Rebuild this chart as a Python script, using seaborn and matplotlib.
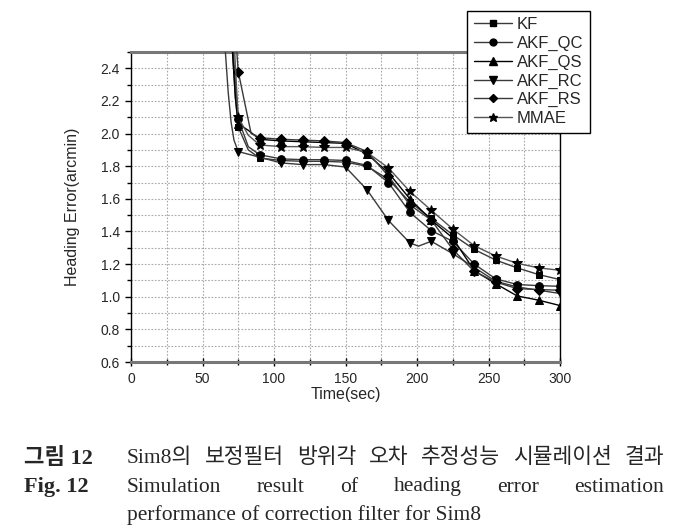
import numpy as np
import pandas as pd
import matplotlib
matplotlib.use("Agg")
import matplotlib.pyplot as plt
import seaborn as sns
from matplotlib.lines import Line2D
from matplotlib.ticker import MultipleLocator, FormatStrFormatter

# ---------------- data ----------------
TIME = [75, 90, 105, 120, 135, 150, 165, 180, 195, 210, 225, 240, 255, 270, 285, 300]

KF      = [2.04, 1.85, 1.835, 1.83, 1.83, 1.825, 1.80, 1.72, 1.58, 1.48, 1.38, 1.29, 1.225, 1.177, 1.136, 1.105]
AKF_QC  = [2.09, 1.87, 1.845, 1.84, 1.84, 1.835, 1.805, 1.70, 1.517, 1.405, 1.34, 1.20, 1.11, 1.075, 1.068, 1.064]
AKF_QS  = [2.06, 1.965, 1.955, 1.95, 1.945, 1.94, 1.875, 1.76, 1.60, 1.47, 1.36, 1.16, 1.08, 1.005, 0.979, 0.946]
AKF_RC  = [1.89, 1.855, 1.82, 1.81, 1.81, 1.795, 1.656, 1.468, 1.33, 1.34, 1.264, 1.18, 1.095, 1.06, 1.04, 1.02]
AKF_RS  = [2.38, 1.975, 1.965, 1.96, 1.955, 1.945, 1.89, 1.74, 1.563, 1.47, 1.29, 1.156, 1.09, 1.05, 1.044, 1.04]
MMAE    = [2.10, 1.93, 1.92, 1.92, 1.915, 1.915, 1.885, 1.79, 1.645, 1.53, 1.415, 1.313, 1.25, 1.205, 1.177, 1.162]

# extra line-only points (no markers)
EXTRA_T = {
    "KF":     [64, 71, 73, 82],
    "AKF_QC": [65, 71.5, 73.5, 82],
    "AKF_QS": [65, 71, 73, 82],
    "AKF_RC": [60, 66, 68, 70, 72, 201],
    "AKF_RS": [68, 74, 84],
    "MMAE":   [66, 72.5, 74, 82],
}
EXTRA_V = {
    "KF":     [4.0, 2.5, 2.22, 1.90],
    "AKF_QC": [4.0, 2.5, 2.25, 1.92],
    "AKF_QS": [4.0, 2.5, 2.22, 2.02],
    "AKF_RC": [4.0, 2.5, 2.25, 2.07, 1.96, 1.31],
    "AKF_RS": [4.0, 2.5, 2.0],
    "MMAE":   [4.0, 2.5, 2.25, 1.99],
}

SERIES = ["KF", "AKF_QC", "AKF_QS", "AKF_RC", "AKF_RS", "MMAE"]
VALUES = {"KF": KF, "AKF_QC": AKF_QC, "AKF_QS": AKF_QS,
          "AKF_RC": AKF_RC, "AKF_RS": AKF_RS, "MMAE": MMAE}
MARKERS = {"KF": "s", "AKF_QC": "o", "AKF_QS": "^", "AKF_RC": "v", "AKF_RS": "D", "MMAE": "*"}
MSIZE = {"KF": 5, "AKF_QC": 5.5, "AKF_QS": 6, "AKF_RC": 6, "AKF_RS": 5, "MMAE": 7}
LCOLOR = {"KF": "#3a3a3a", "AKF_QC": "#3a3a3a", "AKF_QS": "#000000",
          "AKF_RC": "#3a3a3a", "AKF_RS": "#3a3a3a", "MMAE": "#555555"}

X_LABEL = "Time(sec)"
Y_LABEL = "Heading Error(arcmin)"
CAP1_HEAD = "그림 12"
CAP1_WORDS = ["Sim8의", "보정필터", "방위각", "오차", "추정성능", "시뮬레이션", "결과"]
CAP2_HEAD = "Fig. 12"
CAP2_WORDS = ["Simulation", "result", "of", "heading", "error", "estimation"]
CAP3 = "performance of correction filter for Sim8"

# ---------------- figure ----------------
W, H = 677, 532
sns.set_theme(style="white")
plt.rcParams["font.family"] = ["Liberation Sans", "DejaVu Sans"]

fig = plt.figure(figsize=(W / 100, H / 100), dpi=100)
AX_L, AX_R, AX_T, AX_B = 131, 560, 52, 362
ax = fig.add_axes([AX_L / W, 1 - AX_B / H, (AX_R - AX_L) / W, (AX_B - AX_T) / H])

for s in SERIES:
    t = list(TIME) + EXTRA_T[s]
    v = list(VALUES[s]) + EXTRA_V[s]
    df = pd.DataFrame({"t": t, "v": v}).sort_values("t").reset_index(drop=True)
    mark_idx = [i for i, tt in enumerate(df["t"]) if tt in TIME]
    sns.lineplot(data=df, x="t", y="v", ax=ax, color=LCOLOR[s], lw=1.0,
                 marker=MARKERS[s], markersize=MSIZE[s], markevery=mark_idx,
                 markerfacecolor="black", markeredgecolor="black",
                 sort=False, estimator=None, legend=False, zorder=3)

ax.set_xlim(0, 300)
ax.set_ylim(0.6, 2.5)
ax.xaxis.set_major_locator(MultipleLocator(50))
ax.xaxis.set_minor_locator(MultipleLocator(25))
ax.yaxis.set_major_locator(MultipleLocator(0.2))
ax.yaxis.set_minor_locator(MultipleLocator(0.1))
ax.yaxis.set_major_formatter(FormatStrFormatter("%.1f"))

ax.grid(True, which="both", color="#a8a8a8", linestyle=(0, (1.5, 1.5)), lw=0.8, zorder=0)
ax.set_axisbelow(True)

ax.tick_params(axis="y", which="major", direction="out", length=4, width=1, color="black",
               labelsize=10, pad=4, left=True)
ax.tick_params(axis="y", which="minor", direction="out", length=3, width=1, color="black", left=True)
ax.tick_params(axis="x", which="major", direction="inout", length=6, width=1, color="black",
               labelsize=10, pad=4, bottom=True)
ax.tick_params(axis="x", which="minor", direction="inout", length=5, width=1, color="black", bottom=True)

for side in ["top", "bottom"]:
    ax.spines[side].set_color("#777777")
    ax.spines[side].set_linewidth(2.2)
    ax.spines[side].set_visible(True)
for side in ["left", "right"]:
    ax.spines[side].set_color("black")
    ax.spines[side].set_linewidth(1.0)
    ax.spines[side].set_visible(True)

ax.set_xlabel(X_LABEL, fontsize=11.5)
ax.set_ylabel(Y_LABEL, fontsize=11.5)
ax.xaxis.set_label_coords(0.5, (AX_B - 387) / (AX_B - AX_T))
ax.yaxis.set_label_coords((80 - AX_L) / (AX_R - AX_L), 0.5)

handles = [Line2D([], [], color=LCOLOR[s], lw=1.0, marker=MARKERS[s],
                  markersize=MSIZE[s] * 0.9, markerfacecolor="black",
                  markeredgecolor="black") for s in SERIES]
leg = fig.legend(handles, SERIES, loc="upper left",
                 bbox_to_anchor=(467 / W, 1 - 10.5 / H), bbox_transform=fig.transFigure,
                 fontsize=12, frameon=True, fancybox=False, edgecolor="black",
                 framealpha=1, borderpad=0.4, labelspacing=0.22, handlelength=2.3,
                 handletextpad=0.3, borderaxespad=0)
leg.get_frame().set_linewidth(1.0)

# ---------------- caption ----------------
renderer = fig.canvas.get_renderer()
CAP_FONT = ["Liberation Serif", "Noto Sans CJK KR", "DejaVu Sans"]


def px_text(x, y, s, **kw):
    return fig.text(x / W, 1 - y / H, s, va="center", **kw)


def justified(words, x0, x1, y, **kw):
    ts = [px_text(0, y, w, ha="left", **kw) for w in words]
    widths = [t.get_window_extent(renderer).width for t in ts]
    gap = (x1 - x0 - sum(widths)) / (len(words) - 1)
    x = x0
    for t, wd in zip(ts, widths):
        t.set_x(x / W)
        x += wd + gap


px_text(24, 458, CAP1_HEAD, ha="left", fontsize=16, fontweight="bold", family=CAP_FONT)
justified(CAP1_WORDS, 127, 664, 458, fontsize=15.5, family=CAP_FONT)
px_text(24, 487, CAP2_HEAD, ha="left", fontsize=16, fontweight="bold", family=CAP_FONT)
justified(CAP2_WORDS, 127, 664, 487, fontsize=15.5, family=CAP_FONT)
px_text(127, 515, CAP3, ha="left", fontsize=15.5, family=CAP_FONT)

fig.savefig("out.png", dpi=100)
